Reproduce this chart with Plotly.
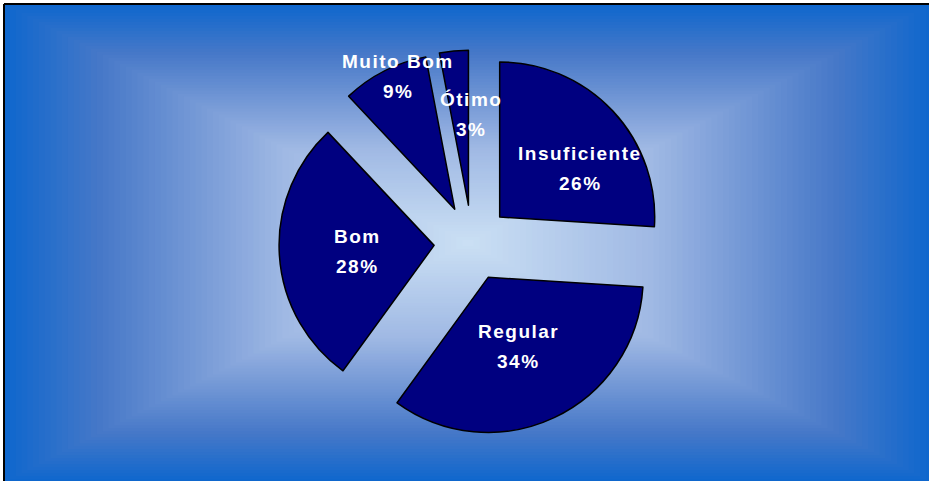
import plotly.graph_objects as go

# data
categorias = ["Insuficiente", "Regular", "Bom", "Muito Bom", "Ótimo"]
percentuais = [26, 34, 28, 9, 3]

W, H = 929, 481


def px(x, y):
    # pixel -> paper coordinates
    return x / W, 1 - y / H


# background gradient stops: (fraction from edge to centre, colour)
grad_stops = [(0.0, (15, 103, 205)), (0.2, (70, 120, 200)), (0.42, (120, 155, 215)),
              (0.6, (160, 185, 228)), (1.0, (203, 224, 244))]


def grad_color(t):
    for (t0, c0), (t1, c1) in zip(grad_stops, grad_stops[1:]):
        if t <= t1:
            f = (t - t0) / (t1 - t0)
            return "rgb(%d,%d,%d)" % tuple(round(a + (b - a) * f) for a, b in zip(c0, c1))
    return "rgb(%d,%d,%d)" % grad_stops[-1][1]


fig = go.Figure()

# pie, centred at roughly (472, 243) px
pie_r = 193
x0, y1 = px(472 - pie_r, 243 - pie_r)
x1, y0 = px(472 + pie_r, 243 + pie_r)
fig.add_trace(go.Pie(
    labels=categorias, values=percentuais,
    sort=False, direction="clockwise", rotation=0,
    pull=[0.245] * len(percentuais),
    marker=dict(colors=["#000080"] * len(percentuais), line=dict(color="black", width=1.5)),
    textinfo="none", hoverinfo="label+percent",
    domain=dict(x=[x0, x1], y=[y0, y1]),
    showlegend=False,
))

# background: rectangular "from centre" gradient made of nested rectangles
shapes = []
cx, cy = 468, 243
hw, hh = 464, 239
n = 80
for i in range(n):
    t = i / n
    f = 1 - t
    pad = 10 if i == 0 else 0
    ax0, ay0 = px(cx - hw * f, cy - hh * f)
    ax1, ay1 = px(cx + hw * f + pad, cy + hh * f + pad)
    shapes.append(dict(type="rect", xref="paper", yref="paper",
                       x0=ax0, x1=ax1, y0=ay1, y1=ay0,
                       fillcolor=grad_color(t), line=dict(width=0), layer="below"))
# frame (top and left edges visible)
fx, fy = px(4, 4)
shapes.append(dict(type="line", xref="paper", yref="paper", x0=fx, x1=1.02, y0=fy, y1=fy,
                   line=dict(color="black", width=2)))
shapes.append(dict(type="line", xref="paper", yref="paper", x0=fx, x1=fx, y0=fy, y1=-0.02,
                   line=dict(color="black", width=2)))

# label positions (px) for each slice
label_pos = [(580, 168), (518, 346), (357, 251), (398, 76), (471, 114)]
annotations = []
for nome, v, (lx, ly) in zip(categorias, percentuais, label_pos):
    ax, ay = px(lx, ly)
    for txt, dy in ((nome, 15), (f"{v}%", -15)):
        annotations.append(dict(
            x=ax, y=ay, xref="paper", yref="paper", yshift=dy,
            text=f'<span style="letter-spacing:1.5px">{txt}</span>', showarrow=False,
            font=dict(family="Liberation Sans, Arial", size=19, color="white", weight="bold"),
            xanchor="center", yanchor="middle",
        ))

fig.update_layout(
    width=W, height=H,
    margin=dict(l=0, r=0, t=0, b=0),
    paper_bgcolor="white", plot_bgcolor="white",
    shapes=shapes, annotations=annotations,
)
fig.write_html("out.html", config={"displayModeBar": False},
               post_script="document.body.style.margin='0';")
